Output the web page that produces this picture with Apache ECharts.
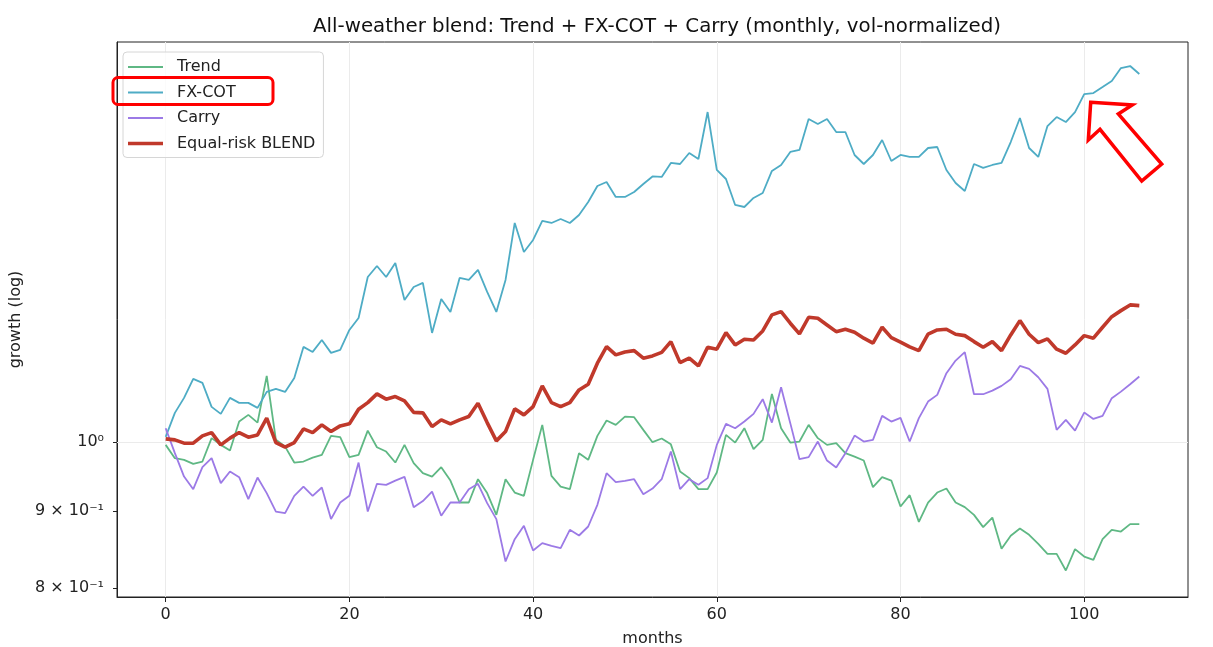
<!DOCTYPE html>
<html>
<head>
<meta charset="utf-8">
<script src="https://cdn.jsdelivr.net/npm/echarts@6/dist/echarts.min.js"></script>
<style>
  html, body { margin: 0; padding: 0; background: #fff; }
  #main { width: 1213px; height: 647px; }
</style>
</head>
<body>
<div id="main"></div>
<script>
// growth paths, one value per month
var trend = [0.9954,0.9754,0.9729,0.9670,0.9704,1.0057,0.9954,0.9868,1.0315,1.0421,
  1.0299,1.1060,1.0031,0.9928,0.9689,0.9704,0.9763,0.9803,1.0092,1.0072,
  0.9769,0.9803,1.0174,0.9919,0.9853,0.9689,0.9954,0.9680,0.9533,0.9484,
  0.9621,0.9426,0.9115,0.9115,0.9446,0.9247,0.8945,0.9446,0.9255,0.9209,
  0.9729,1.0263,0.9494,0.9340,0.9303,0.9829,0.9729,1.0092,1.0331,1.0263,
  1.0394,1.0384,1.0185,0.9995,1.0051,0.9962,0.9557,0.9461,0.9303,0.9303,
  0.9542,1.0107,0.9989,1.0211,0.9889,1.0031,1.0760,1.0211,0.9989,1.0005,
  1.0263,1.0057,0.9954,0.9980,0.9829,0.9778,0.9719,0.9332,0.9475,0.9426,
  0.9059,0.9218,0.8850,0.9115,0.9255,0.9312,0.9115,0.9051,0.8945,0.8779,
  0.8908,0.8493,0.8663,0.8760,0.8676,0.8558,0.8428,0.8428,0.8216,0.8489,
  0.8393,0.8351,0.8619,0.8743,0.8720,0.8819,0.8819];

var fxcot = [1.0077,1.0453,1.0695,1.1010,1.0943,1.0549,1.0437,1.0695,1.0614,1.0614,
  1.0533,1.0793,1.0843,1.0793,1.1026,1.1561,1.1473,1.1685,1.1456,1.1508,
  1.1865,1.2084,1.2865,1.3083,1.2865,1.3143,1.2421,1.2670,1.2748,1.1811,
  1.2440,1.2196,1.2846,1.2807,1.3003,1.2574,1.2196,1.2807,1.3971,1.3366,
  1.3613,1.4014,1.3971,1.4056,1.3971,1.4142,1.4426,1.4783,1.4874,1.4537,
  1.4537,1.4648,1.4828,1.5000,1.4988,1.5312,1.5288,1.5547,1.5405,1.6551,
  1.5149,1.4942,1.4360,1.4316,1.4515,1.4626,1.5126,1.5265,1.5571,1.5619,
  1.6375,1.6251,1.6375,1.6053,1.6053,1.5500,1.5288,1.5500,1.5859,1.5358,
  1.5500,1.5453,1.5453,1.5666,1.5690,1.5149,1.4851,1.4671,1.5288,1.5196,
  1.5265,1.5312,1.5810,1.6400,1.5666,1.5453,1.6201,1.6425,1.6300,1.6551,
  1.7012,1.7038,1.7194,1.7353,1.7702,1.7756,1.7541];

var carry = [1.0211,0.9829,0.9484,0.9303,0.9621,0.9754,0.9389,0.9557,0.9475,0.9162,
  0.9469,0.9247,0.8990,0.8968,0.9209,0.9340,0.9209,0.9326,0.8887,0.9115,
  0.9209,0.9689,0.8990,0.9379,0.9365,0.9426,0.9480,0.9048,0.9136,0.9269,
  0.8932,0.9115,0.9115,0.9303,0.9379,0.9106,0.8887,0.8330,0.8619,0.8796,
  0.8471,0.8567,0.8532,0.8502,0.8743,0.8667,0.8787,0.9083,0.9533,0.9403,
  0.9422,0.9446,0.9232,0.9312,0.9446,0.9853,0.9303,0.9446,0.9365,0.9461,
  0.9954,1.0279,1.0211,1.0315,1.0437,1.0674,1.0299,1.0871,1.0290,0.9739,
  0.9769,1.0005,0.9719,0.9615,0.9829,1.0097,1.0005,1.0031,1.0405,1.0315,
  1.0373,1.0005,1.0369,1.0635,1.0744,1.1106,1.1322,1.1468,1.0755,1.0755,
  1.0815,1.0893,1.1005,1.1230,1.1179,1.1038,1.0843,1.0185,1.0342,1.0174,
  1.0458,1.0357,1.0405,1.0690,1.0798,1.0921,1.1049];

var blend = [1.0046,1.0031,0.9980,0.9980,1.0092,1.0143,0.9954,1.0057,1.0143,1.0072,
  1.0107,1.0369,0.9989,0.9919,0.9989,1.0200,1.0143,1.0263,1.0159,1.0247,
  1.0279,1.0512,1.0618,1.0760,1.0674,1.0716,1.0646,1.0461,1.0453,1.0236,
  1.0342,1.0279,1.0342,1.0394,1.0609,1.0299,1.0015,1.0159,1.0517,1.0421,
  1.0554,1.0893,1.0618,1.0554,1.0618,1.0826,1.0921,1.1277,1.1566,1.1421,
  1.1473,1.1496,1.1363,1.1403,1.1464,1.1655,1.1287,1.1363,1.1230,1.1556,
  1.1521,1.1816,1.1596,1.1698,1.1685,1.1847,1.2140,1.2201,1.1987,1.1793,
  1.2097,1.2079,1.1956,1.1834,1.1878,1.1823,1.1716,1.1627,1.1914,1.1726,
  1.1646,1.1561,1.1496,1.1787,1.1865,1.1878,1.1787,1.1762,1.1655,1.1556,
  1.1655,1.1496,1.1775,1.2035,1.1787,1.1637,1.1703,1.1521,1.1450,1.1596,
  1.1762,1.1716,1.1914,1.2108,1.2220,1.2327,1.2314];

var xTicks = [0, 20, 40, 60, 80, 100];
var yTicks = [0.8, 0.9, 1.0];
var yTickLabels = { '0.8': '8 × 10⁻¹', '0.9': '9 × 10⁻¹', '1': '10⁰' };

function pairs(arr) {
  return arr.map(function (v, i) { return [i, v]; });
}

var font = 'DejaVu Sans';
var fs = 16;
var thinIcon = 'path://M0,0h35v1.8h-35z';
var thickIcon = 'path://M0,0h35v3.6h-35z';

var chart = echarts.init(document.getElementById('main'));

chart.setOption({
  backgroundColor: '#fff',
  animation: false,
  title: {
    text: 'All-weather blend: Trend + FX-COT + Carry (monthly, vol-normalized)',
    left: 652, top: 12, textAlign: 'center',
    textStyle: { fontFamily: font, fontSize: 19.8, fontWeight: 'normal', color: '#111' }
  },
  grid: {
    left: 117, right: 25, top: 42, bottom: 50,
    outerBoundsMode: 'none', containLabel: false,
    show: true, borderColor: '#222', borderWidth: 1
  },
  legend: {
    left: 123, top: 52, orient: 'vertical',
    itemWidth: 35, itemHeight: 14, itemGap: 9.5,
    padding: [7, 8, 6, 5],
    borderColor: '#d6d6d6', borderWidth: 1, borderRadius: 4,
    backgroundColor: 'rgba(255,255,255,0.8)',
    textStyle: { fontFamily: font, fontSize: fs, color: '#222', padding: [0, 0, 0, 9] },
    data: [
      { name: 'Trend', icon: thinIcon },
      { name: 'FX-COT', icon: thinIcon },
      { name: 'Carry', icon: thinIcon },
      { name: 'Equal-risk BLEND', icon: thickIcon }
    ]
  },
  xAxis: {
    type: 'value', min: -5.3, max: 111.3,
    name: 'months', nameLocation: 'middle', nameGap: 34,
    nameTextStyle: { fontFamily: font, fontSize: fs, color: '#222' },
    axisLine: { show: true, onZero: false, lineStyle: { color: '#222' } },
    axisTick: { show: true, length: 5, customValues: xTicks, lineStyle: { color: '#222' } },
    axisLabel: { customValues: xTicks, fontFamily: font, fontSize: fs, color: '#222', margin: 10 },
    splitLine: { show: true, lineStyle: { color: '#ebebeb', width: 1 } }
  },
  yAxis: {
    type: 'log', logBase: 10, min: 0.789, max: 1.842,
    name: 'growth (log)', nameLocation: 'middle', nameGap: 84, nameRotate: 90,
    nameTextStyle: { fontFamily: font, fontSize: fs, color: '#222' },
    axisLine: { show: true, onZero: false, lineStyle: { color: '#222' } },
    axisTick: { show: true, length: 4, customValues: yTicks, lineStyle: { color: '#222' } },
    axisLabel: {
      customValues: yTicks, fontFamily: font, fontSize: fs, color: '#222', margin: 13,
      formatter: function (v) { return yTickLabels[String(Math.round(v * 10) / 10)] || ''; }
    },
    splitLine: { show: false }
  },
  series: [
    {
      name: 'Trend', type: 'line', symbol: 'none', data: pairs(trend),
      lineStyle: { color: '#5fb884', width: 1.8 }, itemStyle: { color: '#5fb884' },
      markLine: {
        silent: true, symbol: 'none', label: { show: false },
        lineStyle: { color: '#ebebeb', type: 'solid', width: 1 },
        data: [{ yAxis: 1.0 }], z: 1
      }
    },
    {
      name: 'FX-COT', type: 'line', symbol: 'none', data: pairs(fxcot),
      lineStyle: { color: '#4eacc5', width: 1.8 }, itemStyle: { color: '#4eacc5' }
    },
    {
      name: 'Carry', type: 'line', symbol: 'none', data: pairs(carry),
      lineStyle: { color: '#9c7ae6', width: 1.8 }, itemStyle: { color: '#9c7ae6' }
    },
    {
      name: 'Equal-risk BLEND', type: 'line', symbol: 'none', data: pairs(blend),
      lineStyle: { color: '#c0392b', width: 3.6 }, itemStyle: { color: '#c0392b' }
    }
  ],
  graphic: [
    {
      type: 'rect', z: 100,
      shape: { x: 113, y: 77.5, width: 160, height: 27, r: 5 },
      style: { fill: 'none', stroke: '#ff0000', lineWidth: 3 }
    },
    {
      type: 'polygon', z: 100,
      shape: {
        points: [[1090.7, 102.3], [1132.3, 105], [1118.3, 114], [1161.7, 164],
                 [1141.7, 181], [1100, 129.3], [1088.3, 140]]
      },
      style: { fill: 'none', stroke: '#ff0000', lineWidth: 3.5, lineJoin: 'miter' }
    }
  ]
});
</script>
</body>
</html>
